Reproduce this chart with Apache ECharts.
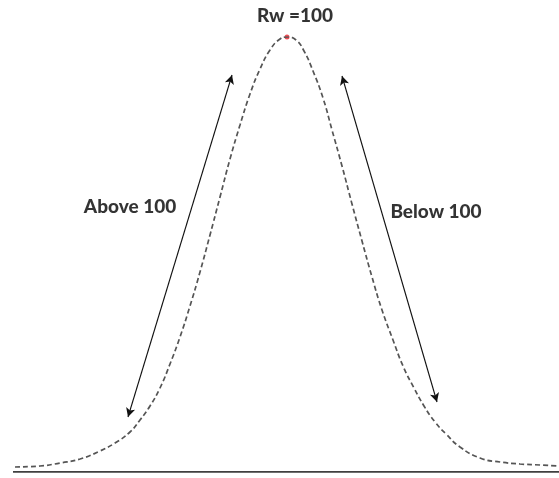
<!DOCTYPE html>
<html><head><meta charset="utf-8">
<script src="https://cdn.jsdelivr.net/npm/echarts@6/dist/echarts.min.js"></script>
<style>html,body{margin:0;padding:0;background:#fff}#c{width:559px;height:478px}</style>
</head><body><div id="c"></div>
<script>
// Curve x positions and heights
const curveX = [15,40,60,80,100,115,130,140,150,160,170,180,190,200,210,220,230,240,250,260,270,280,287,296,304,313,323,332,342,352,362,372,382,393,403,414,424,435,446,460,480,500,520,540,557];
const curveY = [5,6,9,13,21,29,40,52,66,84,108,135,166,200,237,275,313,347,378,403,422,433,435,432,421,401,374,342,306,268,231,195,162,132,106,84,66,50,38,25,14,10,8,7,6];
const peak = [287, 435];
const peakLabel = 'Rw =100';
const baseline = [[13, 0], [559, 0]];
const arrowLeft = [[128, 55], [232, 397]];
const arrowRight = [[342, 396], [437, 70]];
const sideLabels = [
  { name: 'Above 100', pos: [130, 265] },
  { name: 'Below 100', pos: [436, 260] }
];

const curveData = curveX.map((x, i) => [x, curveY[i]]);
const font = 'Lato, "Open Sans", sans-serif';

const chart = echarts.init(document.getElementById('c'));
chart.setOption({
  animation: false,
  backgroundColor: '#fff',
  grid: { left: 0, right: 0, top: 37, bottom: 6 },
  xAxis: { type: 'value', min: 0, max: 559, show: false },
  yAxis: { type: 'value', min: 0, max: 435, show: false },
  series: [
    {
      type: 'line', data: curveData, smooth: true, symbol: 'none',
      lineStyle: { color: '#555', width: 1.7, type: [5, 3] },
      markLine: {
        silent: true, symbol: ['arrow', 'arrow'], symbolSize: [7, 9],
        label: { show: false },
        lineStyle: { color: '#111', width: 1.1, type: 'solid' },
        data: [
          [{ coord: arrowLeft[0] }, { coord: arrowLeft[1] }],
          [{ coord: arrowRight[0] }, { coord: arrowRight[1] }]
        ]
      }
    },
    {
      type: 'line', data: baseline, symbol: 'none',
      lineStyle: { color: '#000', width: 1.6 }
    },
    {
      type: 'scatter', data: [peak], symbolSize: 5,
      itemStyle: { color: '#e8202a' },
      label: { show: true, position: 'top', distance: 9, offset: [8, 0], formatter: peakLabel,
        fontFamily: font, fontWeight: 900, fontSize: 19, color: '#000' }
    },
    {
      type: 'scatter', symbolSize: 0,
      data: sideLabels.map(d => ({ value: d.pos, name: d.name })),
      label: { show: true, position: 'inside', formatter: '{b}',
        fontFamily: font, fontWeight: 900, fontSize: 19, color: '#000' }
    }
  ]
});
</script></body></html>
